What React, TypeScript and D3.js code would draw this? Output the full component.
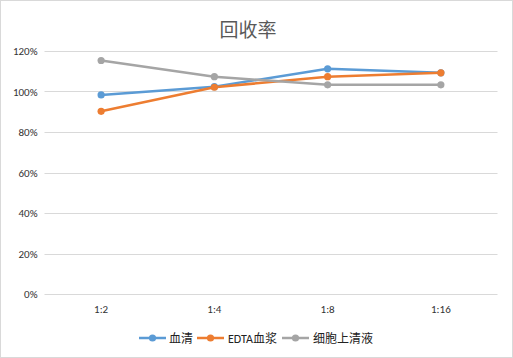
import React from "react";
import * as d3 from "d3";

const categories = ["1:2", "1:4", "1:8", "1:16"];
const seriesNames = ["血清", "EDTA血浆", "细胞上清液"];
const serum = [98.3, 102.4, 111.2, 109.2];
const edta = [90.2, 102.1, 107.3, 109.2];
const supernatant = [115.3, 107.3, 103.3, 103.3];
const yTicks = [0, 20, 40, 60, 80, 100, 120];
const colors = ["#5B9BD5", "#ED7D31", "#A5A5A5"];

const W = 513, H = 358;

export default function App() {
  const x = d3.scaleBand().domain(categories).range([44.5, 497.5]);
  const y = d3.scaleLinear().domain([0, 120]).range([294, 51]);
  const data = [serum, edta, supernatant];
  const line = d3.line<number>().x((_, i) => x(categories[i])! + x.bandwidth() / 2).y(d => y(d));
  const font = "Calibri, Carlito, 'Liberation Sans', Arial, sans-serif";
  const legendItems = [
    { x: 139, tx: 169 },
    { x: 197, tx: 228 },
    { x: 282, tx: 313 },
  ];
  return (
    <svg width={W} height={H} style={{ position: "absolute", left: 0, top: 0, background: "#fff" }} fontFamily={font}>
      <rect x={0.5} y={0.5} width={W - 1} height={H - 1} fill="#fff" stroke="#D9D9D9" />
      <text x={248} y={37} textAnchor="middle" fontSize={19} fill="#595959" fontFamily="'Noto Sans CJK SC', sans-serif">回收率</text>
      {yTicks.map(t => (
        <g key={t}>
          <line x1={44.5} x2={497.5} y1={Math.round(y(t)) + 0.5} y2={Math.round(y(t)) + 0.5} stroke="#D9D9D9" />
          <text x={37.5} y={y(t) + 4} textAnchor="end" fontSize={11} fill="#333">{t}%</text>
        </g>
      ))}
      {categories.map(c => (
        <text key={c} x={x(c)! + x.bandwidth() / 2} y={313} textAnchor="middle" fontSize={11} fill="#333">{c}</text>
      ))}
      {data.map((s, k) => (
        <g key={k}>
          <path d={line(s)!} fill="none" stroke={colors[k]} strokeWidth={2.5} strokeLinejoin="round" />
          {s.map((v, i) => (
            <circle key={i} cx={x(categories[i])! + x.bandwidth() / 2} cy={y(v)} r={3.6} fill={colors[k]} />
          ))}
        </g>
      ))}
      {seriesNames.map((n, k) => (
        <g key={n}>
          <line x1={legendItems[k].x} x2={legendItems[k].x + 27} y1={338} y2={338} stroke={colors[k]} strokeWidth={2.5} />
          <circle cx={legendItems[k].x + 13.5} cy={338} r={3.6} fill={colors[k]} />
          <text x={legendItems[k].tx} y={342.5} fontSize={12} fill="#222" fontFamily="Calibri, Carlito, 'Liberation Sans', 'Noto Sans CJK SC', sans-serif">{n}</text>
        </g>
      ))}
    </svg>
  );
}
